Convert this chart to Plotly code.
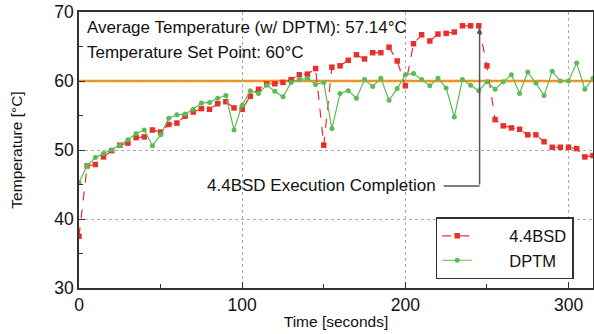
import plotly.graph_objects as go

time_s = list(range(0, 320, 5))

bsd_temp = [37.5, 47.7, 47.9, 49.0, 49.9, 50.7, 51.0, 51.8, 51.9, 52.9,
            52.6, 53.7, 53.9, 54.9, 55.5, 56.0, 55.9, 56.7, 57.0, 56.1,
            55.9, 57.8, 58.8, 59.6, 59.6, 59.8, 60.2, 60.9, 61.0, 61.8,
            50.7, 62.0, 62.2, 63.0, 63.8, 63.2, 64.1, 64.1, 64.9, 62.9,
            59.3, 65.4, 66.7, 65.8, 66.8, 66.9, 67.1, 68.0, 68.0, 68.0,
            62.2, 54.4, 53.5, 53.2, 53.0, 52.2, 52.2, 51.2, 50.4, 50.4,
            50.4, 50.2, 49.0, 49.2]

dptm_temp = [45.3, 47.7, 48.9, 49.5, 50.0, 50.7, 51.5, 52.4, 52.9, 50.6,
             52.2, 54.6, 55.1, 55.2, 55.9, 56.8, 56.9, 57.5, 57.9, 52.9,
             56.5, 58.6, 58.2, 59.4, 58.5, 57.7, 59.8, 60.2, 60.4, 59.5,
             59.8, 53.1, 58.2, 58.6, 57.5, 60.2, 59.2, 60.4, 57.2, 58.9,
             60.9, 61.1, 60.2, 59.3, 60.4, 59.0, 54.8, 60.2, 59.4, 58.6,
             59.9, 58.8, 59.9, 60.9, 58.2, 61.3, 59.7, 57.9, 61.4, 60.0,
             60.0, 62.6, 58.8, 60.4]

set_point = 60
avg_temp_text = "Average Temperature (w/ DPTM): 57.14°C"
set_point_text = "Temperature Set Point: 60°C"
completion_time = 245.5
completion_text = "4.4BSD Execution Completion"

FONT = "Liberation Sans, Arial, Helvetica, sans-serif"
RED = "#E8302A"
GREEN = "#5DBB55"
PAD = "\u00a0" * 7

fig = go.Figure()

fig.add_trace(go.Scatter(
    x=time_s, y=bsd_temp, mode="lines+markers",
    name=PAD + "4.4BSD",
    line=dict(color=RED, width=1.2, dash="dash"),
    marker=dict(symbol="square", size=5.5, color=RED),
))
fig.add_trace(go.Scatter(
    x=time_s, y=dptm_temp, mode="lines+markers",
    name=PAD + "DPTM",
    line=dict(color=GREEN, width=1.2),
    marker=dict(symbol="circle", size=5, color=GREEN),
))

# set point line
fig.add_shape(type="line", xref="paper", x0=0, x1=1, yref="y", y0=set_point, y1=set_point,
              line=dict(color="#FF9000", width=2.5), layer="below")

# text annotations
fig.add_annotation(x=3.5, y=67.8, xref="x", yref="y", text=avg_temp_text, showarrow=False,
                   xanchor="left", yanchor="middle", font=dict(family=FONT, size=17, color="#111"))
fig.add_annotation(x=3.5, y=64.1, xref="x", yref="y", text=set_point_text, showarrow=False,
                   xanchor="left", yanchor="middle", font=dict(family=FONT, size=17, color="#111"))

# completion callout
text_y = 44.8
fig.add_annotation(x=148.5, y=text_y, xref="x", yref="y", text=completion_text, showarrow=False,
                   xanchor="center", yanchor="middle", font=dict(family=FONT, size=17, color="#111"))
fig.add_shape(type="line", xref="x", yref="y", x0=223.5, x1=completion_time, y0=text_y, y1=text_y,
              line=dict(color="#555", width=1.5))
fig.add_annotation(x=completion_time, y=67.7, xref="x", yref="y", ax=completion_time, ay=text_y,
                   axref="x", ayref="y", text="", showarrow=True, arrowhead=2, arrowsize=0.8,
                   arrowwidth=1.5, arrowcolor="#555")

fig.update_xaxes(
    range=[0, 315], tickvals=[0, 100, 200, 300], ticks="inside", ticklen=6,
    tickcolor="#333", showline=True, linecolor="#333", linewidth=1.5, mirror=True,
    showgrid=True, gridcolor="#aaaaaa", griddash="dot", gridwidth=1, zeroline=False,
    minor=dict(tickvals=[50, 150, 250], ticks="inside", ticklen=4, tickcolor="#333", showgrid=False),
    title=dict(text="Time [seconds]", font=dict(family=FONT, size=15.5, color="#111"), standoff=2),
    tickfont=dict(family=FONT, size=17.5, color="#111"), automargin=False,
)
fig.update_yaxes(
    range=[30, 70], tickvals=[30, 40, 50, 60, 70], ticks="inside", ticklen=6,
    tickcolor="#333", showline=True, linecolor="#333", linewidth=1.5, mirror=True,
    showgrid=True, gridcolor="#aaaaaa", griddash="dot", gridwidth=1, zeroline=False,
    minor=dict(tickvals=[35, 45, 55, 65], ticks="inside", ticklen=4, tickcolor="#333", showgrid=False),
    title=dict(text="Temperature [°C]", font=dict(family=FONT, size=15.5, color="#111"), standoff=28),
    tickfont=dict(family=FONT, size=17.5, color="#111"), automargin=False,
)

fig.update_layout(
    width=594, height=334,
    margin=dict(l=79, r=1, t=12, b=46),
    paper_bgcolor="white", plot_bgcolor="white",
    font=dict(family=FONT, size=15, color="#111"),
    legend=dict(x=0.694, y=0.257, xanchor="left", yanchor="top",
                bgcolor="white", bordercolor="#333", borderwidth=1.5,
                font=dict(family=FONT, size=16.5, color="#111"),
                tracegroupgap=0, itemwidth=30),
    showlegend=True,
)

fig.write_html("out.html", config={"displayModeBar": False},
               post_script="document.body.style.margin='0';document.body.style.overflow='hidden';")
